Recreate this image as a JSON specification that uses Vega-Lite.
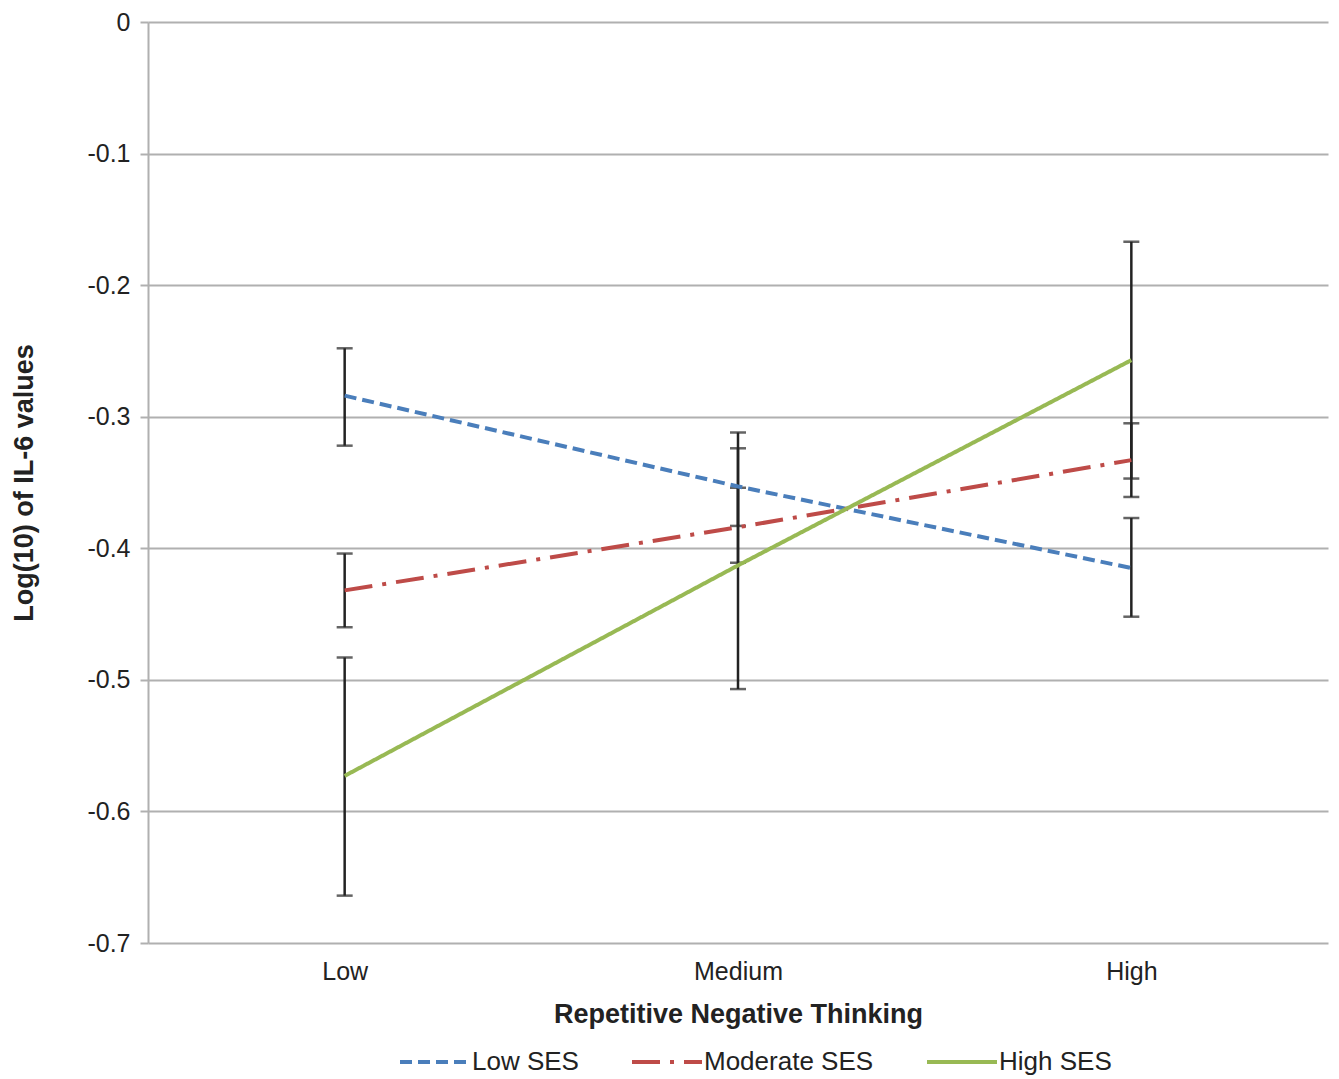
{
  "$schema": "https://vega.github.io/schema/vega-lite/v6.json",
  "width": 1180,
  "height": 921,
  "autosize": {"type": "none"},
  "padding": {"left": 148, "top": 22, "right": 11, "bottom": 136},
  "background": "white",
  "config": {
    "font": "Liberation Sans",
    "view": {"stroke": null}
  },
  "data": {
    "values": [
      {"rnt": "Low", "ses": "Low SES", "value": -0.284, "lo": -0.322, "hi": -0.248},
      {"rnt": "Medium", "ses": "Low SES", "value": -0.353, "lo": -0.383, "hi": -0.324},
      {"rnt": "High", "ses": "Low SES", "value": -0.415, "lo": -0.452, "hi": -0.377},
      {"rnt": "Low", "ses": "Moderate SES", "value": -0.432, "lo": -0.460, "hi": -0.404},
      {"rnt": "Medium", "ses": "Moderate SES", "value": -0.384, "lo": -0.411, "hi": -0.354},
      {"rnt": "High", "ses": "Moderate SES", "value": -0.333, "lo": -0.361, "hi": -0.305},
      {"rnt": "Low", "ses": "High SES", "value": -0.573, "lo": -0.664, "hi": -0.483},
      {"rnt": "Medium", "ses": "High SES", "value": -0.413, "lo": -0.507, "hi": -0.312},
      {"rnt": "High", "ses": "High SES", "value": -0.257, "lo": -0.347, "hi": -0.167}
    ]
  },
  "encoding": {
    "x": {
      "field": "rnt",
      "type": "nominal",
      "sort": ["Low", "Medium", "High"],
      "scale": {"type": "point", "padding": 0.5},
      "axis": {
        "title": "Repetitive Negative Thinking",
        "titleFont": "Liberation Sans",
        "titleFontSize": 27,
        "titleFontWeight": "bold",
        "titleColor": "#222222",
        "titlePadding": 17,
        "labelFontSize": 25,
        "labelColor": "#222222",
        "labelAngle": 0,
        "labelPadding": 16,
        "ticks": false,
        "domain": false,
        "grid": false
      }
    }
  },
  "layer": [
    {
      "mark": {"type": "rule", "color": "#222222", "strokeWidth": 2.5},
      "encoding": {
        "y": {"field": "lo", "type": "quantitative"},
        "y2": {"field": "hi"}
      }
    },
    {
      "mark": {"type": "tick", "color": "#222222", "thickness": 2.5, "size": 16, "orient": "horizontal"},
      "encoding": {"y": {"field": "lo", "type": "quantitative"}}
    },
    {
      "mark": {"type": "tick", "color": "#222222", "thickness": 2.5, "size": 16, "orient": "horizontal"},
      "encoding": {"y": {"field": "hi", "type": "quantitative"}}
    },
    {
      "mark": {"type": "line", "strokeWidth": 4},
      "encoding": {
        "y": {
          "field": "value",
          "type": "quantitative",
          "scale": {"domain": [-0.7, 0], "nice": false, "zero": false},
          "axis": {
            "title": "Log(10) of IL-6 values",
            "titleFont": "Liberation Sans",
            "titleFontSize": 27,
            "titleFontWeight": "bold",
            "titleColor": "#222222",
            "titlePadding": 48,
            "values": [0, -0.1, -0.2, -0.3, -0.4, -0.5, -0.6, -0.7],
            "labelExpr": "'' + datum.value",
            "labelFontSize": 25,
            "labelColor": "#222222",
            "labelPadding": 10,
            "tickSize": 8,
            "tickColor": "#b0b0b0",
            "tickWidth": 2,
            "domainColor": "#b0b0b0",
            "domainWidth": 2,
            "grid": true,
            "gridColor": "#b0b0b0",
            "gridWidth": 2
          }
        },
        "color": {
          "field": "ses",
          "type": "nominal",
          "scale": {"domain": ["Low SES", "Moderate SES", "High SES"], "range": ["#4a7ebb", "#be4b48", "#98b954"]},
          "legend": {
            "title": null,
            "orient": "none",
            "direction": "horizontal",
            "legendX": 250,
            "legendY": 1003,
            "symbolType": "stroke",
            "symbolSize": 4900,
            "symbolStrokeWidth": 4,
            "labelFontSize": 26,
            "labelColor": "#222222",
            "labelOffset": 0,
            "labelLimit": 400,
            "columnPadding": 45
          }
        },
        "strokeDash": {
          "field": "ses",
          "type": "nominal",
          "scale": {"domain": ["Low SES", "Moderate SES", "High SES"], "range": [[12, 6], [28, 10, 4, 10], [1, 0]]},
          "legend": null
        }
      }
    }
  ]
}
